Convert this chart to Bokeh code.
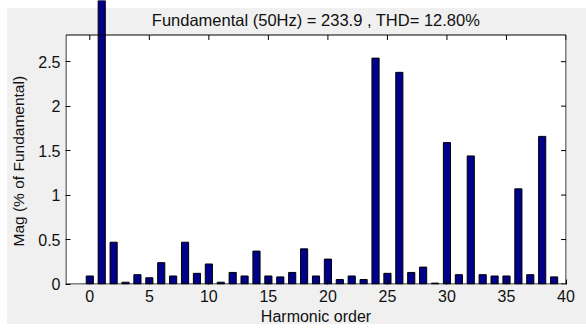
from bokeh.plotting import figure
from bokeh.models import FixedTicker, Title, ColumnDataSource
from bokeh.embed import file_html
from bokeh.resources import INLINE

# Harmonic spectrum, magnitudes in % of the fundamental
harmonic_order = list(range(40))
magnitude = [0.09, 100.0, 0.47, 0.02, 0.105, 0.07, 0.24, 0.09, 0.47, 0.12,
             0.225, 0.02, 0.13, 0.09, 0.37, 0.09, 0.08, 0.13, 0.395, 0.09,
             0.28, 0.05, 0.09, 0.05, 2.54, 0.12, 2.38, 0.13, 0.19, 0.01,
             1.59, 0.105, 1.44, 0.105, 0.09, 0.09, 1.07, 0.105, 1.66, 0.08]

x_ticks = [0, 5, 10, 15, 20, 25, 30, 35, 40]
y_ticks = [0, 0.5, 1, 1.5, 2, 2.5]
x_limits = (-2, 40)
y_limits = (0, 2.8)

title_text = "Fundamental (50Hz) = 233.9 , THD= 12.80%"
x_label = "Harmonic order"
y_label = "Mag (% of Fundamental)"

# ---- page layout (pixels) ----
W, H = 586, 329
frame_left, frame_right = 65, 566
frame_top, frame_bottom = 0, 284
box_left, box_right = 65.5, 565.5
box_top, box_bottom = 34.5, 283.5

ppx = (box_right - box_left) / (x_limits[1] - x_limits[0])
ppy = (box_bottom - box_top) / (y_limits[1] - y_limits[0])


def dx(px):
    return x_limits[0] + (px - box_left) / ppx


def dy(py):
    return y_limits[0] + (box_bottom - py) / ppy


FONT = "Liberation Sans"
TXT = "#111111"
PANEL = "#f0f0f0"

p = figure(
    width=W, height=H,
    x_range=(dx(frame_left), dx(frame_right)),
    y_range=(dy(frame_bottom), dy(frame_top)),
    output_backend="svg", toolbar_location=None,
    min_border_left=frame_left, min_border_right=W - frame_right,
    min_border_top=frame_top, min_border_bottom=H - frame_bottom,
    border_fill_color=None, background_fill_color=None,
    outline_line_color=None,
    styles={"background": f"linear-gradient({PANEL}, {PANEL}) 7px 8px / 579px 316px no-repeat"},
)
p.xgrid.visible = False
p.ygrid.visible = False

# grey panel inside the frame above the axes box, white axes area
p.quad(left=x_limits[0] - 1, right=x_limits[1] + 1, bottom=y_limits[1], top=dy(8),
       fill_color=PANEL, line_color=None)
p.quad(left=x_limits[0], right=x_limits[1], bottom=y_limits[0], top=y_limits[1],
       fill_color="white", line_color=None)

src = ColumnDataSource(dict(x=harmonic_order, top=magnitude))
p.vbar(x="x", top="top", bottom=0, width=0.6, source=src,
       fill_color="#00008B", line_color="black", line_width=1)

# axes box
p.multi_line(
    xs=[[x_limits[0], x_limits[1], x_limits[1], x_limits[0], x_limits[0]]],
    ys=[[y_limits[0], y_limits[0], y_limits[1], y_limits[1], y_limits[0]]],
    line_color="black", line_width=1,
)
# inward tick marks along the top and right edges
p.segment(x0=x_ticks, x1=x_ticks, y0=[y_limits[1]] * len(x_ticks),
          y1=[y_limits[1] - 5 / ppy] * len(x_ticks), line_color="black", line_width=1)
p.segment(x0=[x_limits[1]] * len(y_ticks), x1=[x_limits[1] - 5 / ppx] * len(y_ticks),
          y0=y_ticks, y1=y_ticks, line_color="black", line_width=1)

for ax in (p.xaxis[0], p.yaxis[0]):
    ax.axis_line_color = None
    ax.major_tick_in = 5
    ax.major_tick_out = 0
    ax.minor_tick_line_color = None
    ax.major_tick_line_color = "black"
    ax.major_label_text_font = FONT
    ax.major_label_text_font_size = "16px"
    ax.major_label_text_color = TXT

p.xaxis[0].ticker = FixedTicker(ticks=x_ticks)
p.xaxis[0].major_label_standoff = 5
p.xaxis[0].axis_label = x_label
p.xaxis[0].axis_label_standoff = 3
p.xaxis[0].axis_label_text_font = FONT
p.xaxis[0].axis_label_text_font_size = "16px"
p.xaxis[0].axis_label_text_font_style = "normal"
p.xaxis[0].axis_label_text_color = TXT

p.yaxis[0].ticker = FixedTicker(ticks=y_ticks)
p.yaxis[0].major_label_standoff = 5
p.yaxis[0].major_label_overrides = {0: "0", 1: "1", 2: "2"}

# vertical axis caption, offset so it is centred on the axes box
p.add_layout(Title(text=y_label, align="left", offset=frame_bottom - 246,
                   vertical_align="middle", standoff=15,
                   text_font=FONT, text_font_size="15.5px", text_font_style="normal",
                   text_color=TXT), "left")

# heading in the grey band above the axes box
p.text(x=[(x_limits[0] + x_limits[1]) / 2], y=[dy(19)], text=[title_text],
       text_align="center", text_baseline="middle",
       text_font={"value": FONT}, text_font_size={"value": "16.5px"}, text_color=TXT)

open("out.html", "w").write(file_html(p, INLINE))
